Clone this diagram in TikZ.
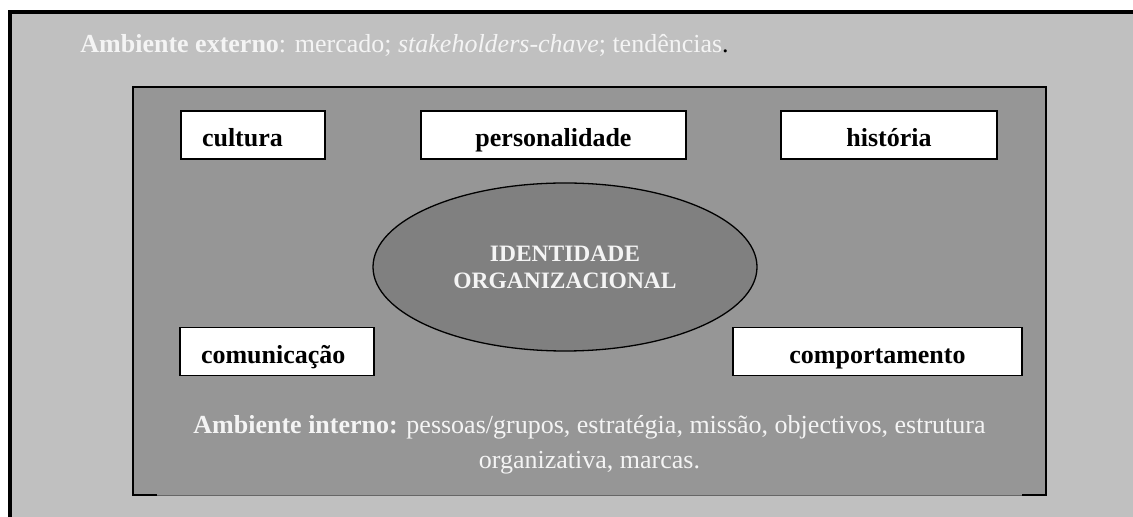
\documentclass[tikz,border=0pt]{standalone}
\usepackage{fontspec}
\setmainfont{Liberation Serif}
\usetikzlibrary{shapes.geometric}
\definecolor{ext}{HTML}{C0C0C0}
\definecolor{int}{HTML}{969696}
\definecolor{nucleo}{HTML}{808080}
\definecolor{claro}{HTML}{F4F4F4}
\tikzset{
	caixa/.style = {draw, line width=0.75pt, fill=white, inner ysep=0pt, minimum height=24pt, text height=12pt, text depth=0pt, font=\fontsize{13}{15}\selectfont\bfseries},
	caixaesq/.style = {caixa, text width=#1, align=left, inner xsep=10.5pt},
	caixacen/.style = {caixa, minimum width=#1, inner xsep=0pt},
}
\begin{document}
\begin{tikzpicture}[x=0.5pt, y=-0.5pt]
	\useasboundingbox (0,0) rectangle (1133,517);
	\fill [ext] (8,10) rectangle (1133,517);
	\draw [line width=2pt] (10,517) -- (10,12) -- (1133,12);
	\fill [int] (133,87) rectangle (1046,495);
	\draw [line width=0.5pt, black!60] (157,495) -- (1022,495);
	\draw [line width=0.65pt] (157,495) -- (133,495) -- (133,87) -- (1046,87) -- (1046,495) -- (1022,495);
	\node [anchor=base west, inner sep=0pt, text=claro, font=\fontsize{13}{15}\selectfont] (externo) at (80,53) {\textbf{Ambiente externo}: mercado; \textit{stakeholders-chave}; tendências\textcolor{black}{.}};
	\node [caixaesq=51pt] (cultura) at (253,135) {cultura};
	\node [caixacen=132.5pt] (personalidade) at (553.5,135) {personalidade};
	\node [caixacen=108pt] (historia) at (889,135) {história};
	\node [ellipse, draw, line width=0.65pt, fill=nucleo, minimum width=192pt, minimum height=84pt, inner sep=0pt, text=claro, align=center, font=\fontsize{11.75}{13.5}\selectfont\bfseries] (identidade) at (565,267) {IDENTIDADE\\ORGANIZACIONAL};
	\node [caixaesq=76pt] (comunicacao) at (277,351.5) {comunicação};
	\node [caixacen=144.5pt] (comportamento) at (877.5,351.5) {comportamento};
	\node [anchor=base, inner sep=0pt, text=claro, align=center, font=\fontsize{13}{17.5}\selectfont] (interno) at (589.5,468) {\textbf{Ambiente interno:} pessoas/grupos, estratégia, missão, objectivos, estrutura\\organizativa, marcas.};
\end{tikzpicture}
\end{document}
